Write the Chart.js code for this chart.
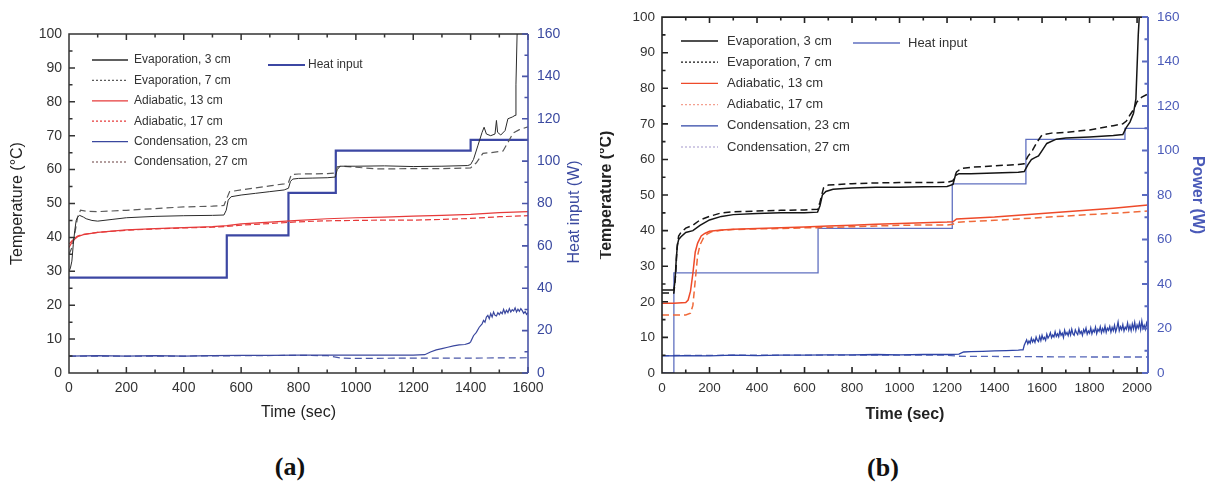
<!DOCTYPE html>
<html>
<head>
<meta charset="utf-8">
<script src="https://cdn.jsdelivr.net/npm/chart.js@4"></script>
<style>
  body { margin: 0; background: #fff; }
  #wrap { position: relative; width: 1210px; height: 482px; overflow: hidden; }
  canvas { position: absolute; top: 0; }
  #chartA { left: 0; }
  #chartB { left: 600px; }
  .tag { position: absolute; font: bold 26px "Liberation Serif", "DejaVu Serif", serif; color: #111; transform: translate(-50%, -50%); }
</style>
</head>
<body>
<div id="wrap">
  <canvas id="chartA" width="600" height="430"></canvas>
  <canvas id="chartB" width="610" height="430"></canvas>
  <div class="tag" style="left:290px; top:467px;">(a)</div>
  <div class="tag" style="left:883px; top:468px;">(b)</div>
</div>
<script>
// tick values
const xTicksA = [0, 200, 400, 600, 800, 1000, 1200, 1400, 1600];
const xTicksB = [0, 200, 400, 600, 800, 1000, 1200, 1400, 1600, 1800, 2000];
const tempTicks = [0, 10, 20, 30, 40, 50, 60, 70, 80, 90, 100];
const powerTicks = [0, 20, 40, 60, 80, 100, 120, 140, 160];

// (a) series, [time (s), value]
const evap3A = [[0,30],[5,31],[10,33],[15,38],[20,42],[25,45],[30,46],[37,46.5],[50,46],[60,45.5],[80,45],[100,44.8],[150,45.3],[200,45.8],[300,46.2],[400,46.4],[500,46.5],[540,46.6],[548,48],[555,51],[565,52],[600,52.5],[650,53],[700,53.5],[750,54],[765,54.5],[772,56.5],[780,57.2],[800,57.4],[850,57.5],[900,57.6],[928,57.8],[935,60],[945,61],[1000,61],[1100,61.1],[1200,60.9],[1300,61],[1390,61.2],[1400,61.5],[1410,63],[1425,67],[1440,71],[1447,72.5],[1455,70.5],[1470,70],[1485,70.5],[1490,74.5],[1494,71],[1505,70.2],[1520,71.5],[1530,75],[1545,75.5],[1555,76],[1558,85],[1562,100],[1565,106]];
const evap7A = [[0,35],[10,37],[20,41],[30,46],[40,48],[60,47.7],[100,47.6],[200,48],[300,48.5],[400,49],[500,49.2],[540,49.4],[550,51.5],[560,53.5],[600,54],[700,55.2],[750,55.8],[765,56.2],[775,58.5],[800,58.7],[900,58.8],[928,59],[935,60.8],[950,61],[1000,60.7],[1070,60.2],[1100,60.2],[1200,60.3],[1300,60.3],[1400,60.5],[1420,62],[1443,64.8],[1470,65],[1513,65.5],[1530,68],[1548,70.8],[1570,71.8],[1600,72.6]];
const adia13A = [[0,37],[10,38.5],[20,39.5],[30,40.2],[50,40.8],[100,41.5],[200,42.2],[300,42.6],[400,42.9],[500,43.2],[550,43.5],[600,44],[700,44.5],[800,45],[900,45.5],[1000,45.8],[1100,46],[1200,46.3],[1300,46.5],[1400,46.8],[1500,47.3],[1600,47.6]];
const adia17A = [[0,38],[10,39],[20,39.8],[30,40.4],[50,40.9],[100,41.5],[200,42.1],[300,42.5],[400,42.8],[500,43],[550,43.2],[600,43.6],[700,44.1],[800,44.6],[900,44.9],[1000,45],[1100,45.1],[1200,45.1],[1300,45.3],[1400,45.6],[1500,46.1],[1600,46.4]];
const cond23A = [[0,5],[100,5.1],[200,5],[300,5.1],[400,5],[500,5.1],[600,5.2],[700,5.2],[800,5.3],[900,5.3],[1000,5.3],[1100,5.3],[1200,5.3],[1240,5.4],[1260,6.2],[1280,6.8],[1300,7.2],[1320,7.6],[1340,8],[1360,8.3],[1380,8.4],[1395,8.8],[1400,9.2],[1410,11],[1420,12],[1430,13.5],[1440,14.5],[1445,15.5],[1450,15],[1455,16.5],[1460,17],[1465,16],[1470,17.5],[1475,16.5],[1480,18],[1485,17],[1490,16.8],[1495,17.8],[1500,17.2],[1505,18],[1510,17.5],[1515,18.8],[1520,17.6],[1525,18.5],[1530,17.8],[1535,19],[1540,18],[1545,18.7],[1550,18.3],[1555,19.2],[1560,18],[1565,18.8],[1570,18.2],[1575,19],[1580,18.4],[1585,17.6],[1590,18.1],[1595,17.3],[1600,17.8]];
const cond27A = [[0,5],[200,5],[400,5],[600,5.1],[800,5.2],[900,5.1],[950,4.4],[1000,4.3],[1200,4.4],[1400,4.4],[1600,4.5]];
const heatA = [[0,45],[550,65],[765,85],[930,105],[1400,110],[1600,110]];

// (b) series
const evap3B = [[0,23.3],[50,23.3],[55,26],[60,32],[65,36],[70,37.5],[80,38.3],[100,39.5],[130,40],[160,41.5],[200,43],[250,44],[300,44.5],[400,44.8],[500,45],[600,45],[655,45.2],[665,47],[675,50],[690,51],[720,51.6],[800,52],[900,52.2],[1000,52.2],[1100,52.3],[1200,52.4],[1225,53],[1235,55.5],[1250,56],[1300,56],[1400,56.2],[1500,56.4],[1525,56.6],[1540,58.5],[1555,60],[1570,60.5],[1585,61],[1600,62.5],[1620,64.5],[1660,65.7],[1700,66],[1800,66.3],[1900,66.7],[1940,67],[1955,69],[1970,70.5],[1985,73],[1995,77],[2000,86],[2005,95],[2010,101]];
const evap7B = [[0,22.5],[50,22.5],[58,28],[63,35],[70,38.5],[80,39.5],[100,40.7],[130,41.5],[160,43],[200,44],[250,45],[300,45.3],[400,45.5],[500,45.7],[600,45.8],[655,46],[665,48],[680,52],[700,52.8],[800,53.2],[900,53.4],[1000,53.5],[1100,53.5],[1200,53.6],[1225,54],[1240,56.5],[1260,57.5],[1300,57.8],[1400,58.2],[1500,58.6],[1525,58.8],[1540,60.8],[1560,62.6],[1580,65],[1600,66.9],[1640,67.4],[1700,67.6],[1800,68.3],[1900,69.5],[1940,70],[1955,70.8],[1970,72.5],[1985,74],[2000,76.2],[2020,77.5],[2046,78.4]];
const adia13B = [[0,19.6],[50,19.6],[100,19.8],[110,20.5],[120,23],[130,28],[140,34],[150,36.5],[165,38.5],[180,39.2],[200,39.8],[250,40.2],[300,40.4],[400,40.6],[500,40.8],[600,41],[700,41.3],[800,41.5],[900,41.8],[1000,42],[1100,42.2],[1200,42.4],[1225,42.5],[1240,43.3],[1300,43.5],[1400,43.8],[1500,44.3],[1600,44.8],[1700,45.3],[1800,45.8],[1900,46.3],[2000,46.9],[2046,47.2]];
const adia17B = [[0,16.3],[50,16.3],[100,16.3],[120,16.8],[130,19],[140,26],[150,33],[160,36],[175,38],[190,39],[210,39.7],[250,40.1],[300,40.3],[400,40.5],[500,40.6],[600,40.8],[700,40.9],[800,41.1],[900,41.3],[1000,41.5],[1100,41.6],[1200,41.6],[1225,41.8],[1240,42.3],[1300,42.6],[1400,42.9],[1500,43.3],[1600,43.7],[1700,44.1],[1800,44.5],[1900,44.9],[2000,45.3],[2046,45.5]];
const cond23B = [[0,4.8],[100,4.9],[200,4.8],[300,5],[400,4.9],[500,5],[600,5],[700,5.1],[800,5.1],[900,5.2],[1000,5.1],[1100,5.2],[1200,5.2],[1250,5.3],[1270,5.9],[1300,6],[1350,6.1],[1400,6.2],[1450,6.3],[1500,6.4],[1510,6.5],
  [1520,6.5],[1525,7.8],[1530,8.6],[1535,9.3],[1540,8.2],[1545,9.0],[1550,8.4],[1555,9.8],[1560,8.7],[1565,9.4],
  [1570,8.6],[1575,10.1],[1580,9.2],[1585,8.8],[1590,10.3],[1595,9.1],[1600,10.6],[1605,9.5],[1610,10.0],[1615,9.2],
  [1620,10.9],[1625,9.8],[1630,10.4],[1635,11.3],[1640,9.9],[1645,10.7],[1650,10.1],[1655,11.6],[1660,10.3],[1665,11.0],
  [1670,10.2],[1675,11.8],[1680,10.6],[1685,11.2],[1690,10.0],[1695,12.0],[1700,10.8],[1705,11.4],[1710,10.5],[1715,11.9],
  [1720,10.7],[1725,12.3],[1730,11.0],[1735,10.6],[1740,12.1],[1745,11.3],[1750,10.8],[1755,12.4],[1760,11.1],[1765,11.7],
  [1770,10.6],[1775,12.2],[1780,11.4],[1785,12.6],[1790,10.9],[1795,11.8],[1800,11.2],[1805,12.7],[1810,11.0],[1815,12.1],
  [1820,11.5],[1825,12.9],[1830,11.1],[1835,12.3],[1840,11.7],[1845,13.0],[1850,11.3],[1855,12.5],[1860,11.6],[1865,13.2],
  [1870,11.4],[1875,12.6],[1880,12.0],[1885,13.1],[1890,11.5],[1895,12.8],[1900,11.9],[1905,13.4],[1910,11.6],[1915,12.7],
  [1920,14.3],[1925,11.9],[1930,13.0],[1935,12.2],[1940,13.6],[1945,11.8],[1950,12.9],[1955,12.3],[1960,14.0],[1965,12.1],
  [1970,13.3],[1975,11.9],[1980,13.8],[1985,12.4],[1990,14.2],[1995,12.0],[2000,13.5],[2005,12.6],[2010,14.1],[2015,12.2],
  [2020,14.6],[2025,12.5],[2030,13.4],[2035,12.3],[2040,14.0],[2045,12.8],[2046,13.5]];
const cond27B = [[0,4.9],[300,5],[600,5],[900,5],[1200,5],[1250,4.7],[1500,4.6],[1800,4.5],[2046,4.5]];
const heatB = [[0,0],[50,45],[657,65],[1222,85],[1532,105],[1949,110],[2046,110]];

Chart.defaults.font.family = '"Liberation Sans", Arial, sans-serif';

function series(label, pts, color, width, dash, extra) {
  return Object.assign({
    label: label,
    data: pts.map(p => ({ x: p[0], y: p[1] })),
    borderColor: color,
    borderWidth: width,
    borderDash: dash || [],
    pointRadius: 0,
    fill: false,
    tension: 0,
    yAxisID: 'y'
  }, extra || {});
}

// frame and inward ticks on all four sides
const frameTicks = {
  id: 'frameTicks',
  afterDatasetsDraw(chart, args, o) {
    const { ctx, chartArea: a, scales } = chart;
    ctx.save();
    ctx.lineWidth = o.width;
    ctx.strokeStyle = o.frame;
    ctx.beginPath();
    ctx.moveTo(a.right, a.top); ctx.lineTo(a.left, a.top);
    ctx.lineTo(a.left, a.bottom); ctx.lineTo(a.right, a.bottom);
    for (let v = 0; v <= scales.x.max; v += o.xStep) {
      const len = v % o.xMajor === 0 ? 6 : 3.5;
      const px = scales.x.getPixelForValue(v);
      ctx.moveTo(px, a.bottom); ctx.lineTo(px, a.bottom - len);
      ctx.moveTo(px, a.top); ctx.lineTo(px, a.top + len);
    }
    for (let v = 0; v <= scales.y.max; v += o.yStep) {
      const len = v % o.yMajor === 0 ? 6 : 3.5;
      const py = scales.y.getPixelForValue(v);
      ctx.moveTo(a.left, py); ctx.lineTo(a.left + len, py);
    }
    ctx.stroke();
    ctx.strokeStyle = o.side;
    ctx.lineWidth = o.sideWidth;
    ctx.beginPath();
    ctx.moveTo(a.right, a.top); ctx.lineTo(a.right, a.bottom);
    for (let v = 0; v <= scales.y2.max; v += o.y2Step) {
      const len = v % o.y2Major === 0 ? 6 : 3.5;
      const py = scales.y2.getPixelForValue(v);
      ctx.moveTo(a.right, py); ctx.lineTo(a.right - len, py);
    }
    ctx.stroke();
    ctx.restore();
  }
};

// legend inside the plot
const inLegend = {
  id: 'inLegend',
  afterDraw(chart, args, o) {
    const ctx = chart.ctx;
    ctx.save();
    ctx.font = o.font;
    ctx.textBaseline = 'middle';
    chart.data.datasets.forEach((ds, i) => {
      const main = i < 6;
      const x = main ? o.x : o.hx;
      const y = main ? o.y + i * o.row : o.hy;
      const len = main ? o.len : o.hlen;
      ctx.strokeStyle = ds.legendColor || ds.borderColor;
      ctx.lineWidth = main ? 1.3 : ds.borderWidth;
      ctx.setLineDash(ds.borderDash.length ? [2, 2] : []);
      ctx.beginPath();
      ctx.moveTo(x, y); ctx.lineTo(x + len, y);
      ctx.stroke();
      ctx.setLineDash([]);
      ctx.fillStyle = o.color;
      ctx.fillText(ds.label, x + len + (main ? o.gap : o.hgap), y);
    });
    ctx.restore();
  }
};

// right title read from bottom to top
const sideTitle = {
  id: 'sideTitle',
  afterDraw(chart, args, o) {
    if (!o.text) return;
    const ctx = chart.ctx;
    ctx.save();
    ctx.translate(o.x, o.y);
    ctx.rotate(-Math.PI / 2);
    ctx.font = o.font;
    ctx.fillStyle = o.color;
    ctx.textAlign = 'center';
    ctx.textBaseline = 'middle';
    ctx.fillText(o.text, 0, 0);
    ctx.restore();
  }
};

function makeScales(cfg) {
  return {
    x: {
      type: 'linear', min: 0, max: cfg.xMax,
      afterBuildTicks: s => { s.ticks = cfg.xTicks.map(v => ({ value: v })); },
      afterFit: s => { s.height = 57; },
      grid: { display: false, drawTicks: false }, border: { display: false },
      ticks: { padding: 7, color: '#333', autoSkip: false, maxRotation: 0,
               font: { size: cfg.tickSize }, callback: v => String(v) },
      title: { display: true, text: 'Time (sec)', color: '#222',
               font: { size: 16, weight: cfg.titleWeight }, padding: { top: 0, bottom: cfg.xTitlePad } }
    },
    y: {
      position: 'left', min: 0, max: 100,
      afterBuildTicks: s => { s.ticks = tempTicks.map(v => ({ value: v })); },
      afterFit: s => { s.width = cfg.leftW; },
      grid: { display: false, drawTicks: false }, border: { display: false },
      ticks: { padding: 7, color: '#333', font: { size: cfg.tickSize }, callback: v => String(v) },
      title: { display: true, text: 'Temperature (\u00B0C)', color: '#222',
               font: { size: 16, weight: cfg.titleWeight, lineHeight: cfg.yTitleLH }, padding: { top: cfg.yTitlePad } }
    },
    y2: {
      position: 'right', min: 0, max: 160,
      afterBuildTicks: s => { s.ticks = powerTicks.map(v => ({ value: v })); },
      afterFit: s => { s.width = cfg.rightW; },
      grid: { display: false, drawTicks: false }, border: { display: false },
      ticks: { padding: 9, color: cfg.blueText, font: { size: cfg.tickSize }, callback: v => String(v) },
      title: { display: cfg.rightTitle !== '', text: cfg.rightTitle, color: cfg.blueText,
               font: { size: 16, weight: cfg.titleWeight }, padding: { top: 3.4 } }
    }
  };
}

new Chart(document.getElementById('chartA'), {
  type: 'line',
  data: {
    datasets: [
      series('Evaporation, 3 cm', evap3A, '#2b2b2b', 1),
      series('Evaporation, 7 cm', evap7A, '#5a5a5a', 1.2, [7, 4]),
      series('Adiabatic, 13 cm', adia13A, '#e63a3a', 1.2),
      series('Adiabatic, 17 cm', adia17A, '#e63a3a', 1.2, [6, 3]),
      series('Condensation, 23 cm', cond23A, '#3a479e', 1.2),
      series('Condensation, 27 cm', cond27A, '#4a57a8', 1.2, [7, 4], { legendColor: '#8a6a6a' }),
      series('Heat input', heatA, '#3c47a3', 2.2, [], { yAxisID: 'y2', stepped: true })
    ]
  },
  options: {
    responsive: false,
    animation: false,
    devicePixelRatio: 1,
    layout: { padding: { top: 34, left: 0, right: 0, bottom: 0 } },
    scales: makeScales({ xMax: 1600, xTicks: xTicksA, tickSize: 14, titleWeight: 'normal', xTitlePad: 7.4,
                         leftW: 69, rightW: 72, yTitlePad: 8.4, yTitleLH: 1.2, rightTitle: '', blueText: '#3b4aa0' }),
    plugins: {
      legend: { display: false },
      tooltip: { enabled: false },
      frameTicks: { width: 1.5, frame: '#333', side: '#4a55a8', sideWidth: 1.6,
                    xStep: 100, xMajor: 200, yStep: 5, yMajor: 10, y2Step: 10, y2Major: 20 },
      inLegend: { font: '12px "Liberation Sans", Arial, sans-serif', color: '#333',
                  x: 92, y: 60, row: 20.4, len: 36, gap: 6, hx: 268, hy: 65, hlen: 37, hgap: 3 },
      sideTitle: { text: 'Heat input (W)', x: 575, y: 212, color: '#3b4aa0', font: '16px "Liberation Sans", Arial, sans-serif' }
    }
  },
  plugins: [frameTicks, inLegend, sideTitle]
});

new Chart(document.getElementById('chartB'), {
  type: 'line',
  data: {
    datasets: [
      series('Evaporation, 3 cm', evap3B, '#151515', 1.5),
      series('Evaporation, 7 cm', evap7B, '#151515', 1.5, [7, 4]),
      series('Adiabatic, 13 cm', adia13B, '#ee4a2a', 1.5),
      series('Adiabatic, 17 cm', adia17B, '#f06a3a', 1.5, [7, 4], { legendColor: '#f4a090' }),
      series('Condensation, 23 cm', cond23B, '#2e44a6', 1.3),
      series('Condensation, 27 cm', cond27B, '#5566b8', 1.3, [7, 4], { legendColor: '#b8b0d8' }),
      series('Heat input', heatB, '#6070c0', 1.3, [], { yAxisID: 'y2', stepped: true })
    ]
  },
  options: {
    responsive: false,
    animation: false,
    devicePixelRatio: 1,
    layout: { padding: { top: 17, left: 0, right: 0, bottom: 0 } },
    scales: makeScales({ xMax: 2046, xTicks: xTicksB, tickSize: 13.5, titleWeight: 'bold', xTitlePad: 5.4,
                         leftW: 62, rightW: 62, yTitlePad: -1, yTitleLH: 1, rightTitle: 'Power (W)', blueText: '#4a5ab8' }),
    plugins: {
      legend: { display: false },
      tooltip: { enabled: false },
      frameTicks: { width: 1.6, frame: '#222', side: '#5a6ac0', sideWidth: 2,
                    xStep: 100, xMajor: 200, yStep: 5, yMajor: 10, y2Step: 10, y2Major: 20 },
      inLegend: { font: '13px "Liberation Sans", Arial, sans-serif', color: '#333',
                  x: 81, y: 41, row: 21.2, len: 37, gap: 9, hx: 253, hy: 43, hlen: 47, hgap: 8 }
    }
  },
  plugins: [frameTicks, inLegend]
});
</script>
</body>
</html>
